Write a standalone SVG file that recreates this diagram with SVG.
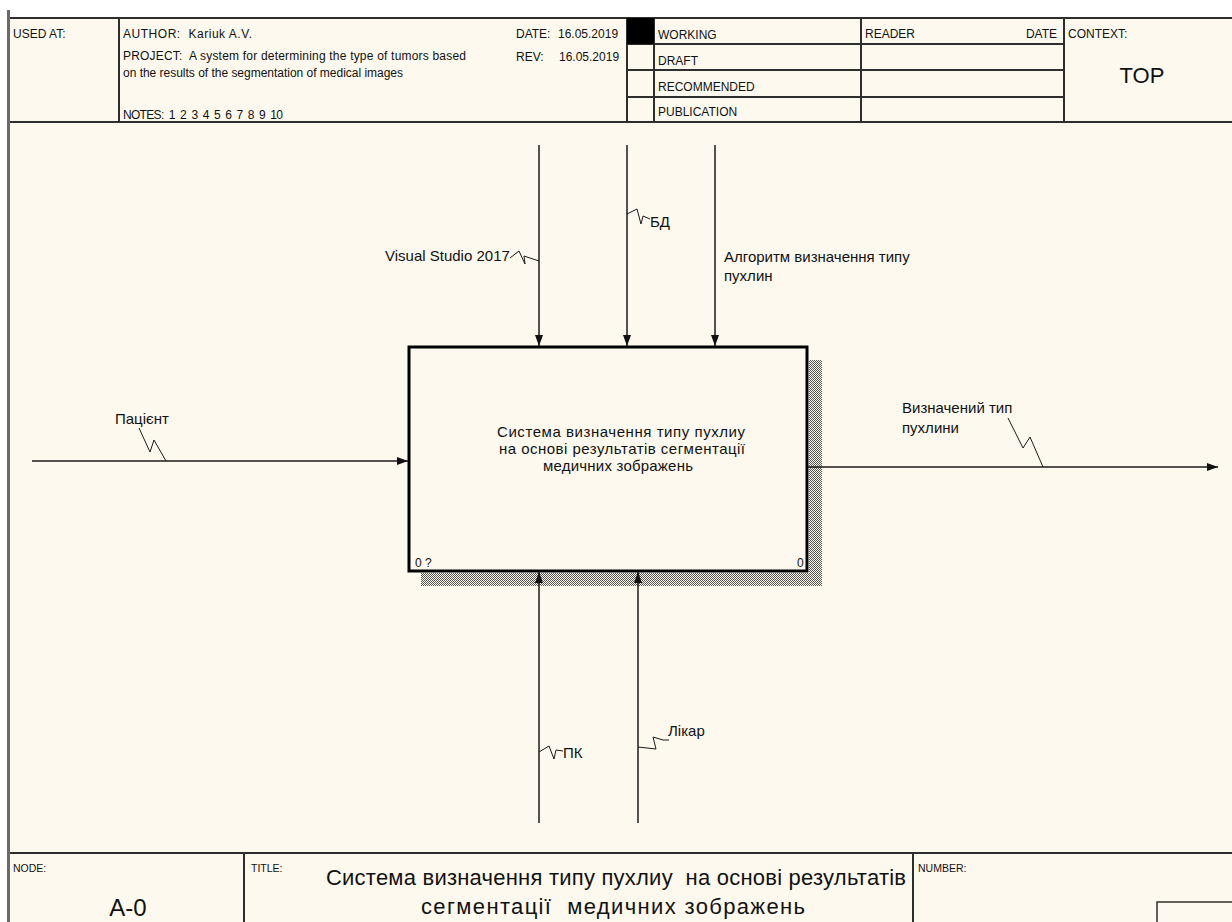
<svg xmlns="http://www.w3.org/2000/svg" width="1232" height="922" viewBox="0 0 1232 922">
  <defs>
    <pattern id="hatch" width="2" height="2" patternUnits="userSpaceOnUse">
      <rect width="2" height="2" fill="#fdf9ee"/>
      <rect width="1" height="1" fill="#555"/>
      <rect x="1" y="1" width="1" height="1" fill="#555"/>
    </pattern>
    <marker id="arrow" markerUnits="userSpaceOnUse" markerWidth="12" markerHeight="10" refX="11" refY="5" orient="auto">
      <path d="M0,1 L11,5 L0,9 Z" fill="#111"/>
    </marker>
    <style>
      text { white-space: pre; }
      .frame { stroke: #2e2e2e; stroke-width: 2; fill: none; }
      .hdr { font-family: "Liberation Sans", Arial, sans-serif; font-size: 12px; fill: #111; }
      .small { font-family: "Liberation Sans", Arial, sans-serif; font-size: 10.5px; fill: #111; }
      .lbl { font-family: "Liberation Sans", Arial, sans-serif; font-size: 15px; fill: #111; }
      .big { font-family: "Liberation Sans", Arial, sans-serif; font-size: 22px; fill: #111; }
      .arc { stroke: #1a1a1a; stroke-width: 1.5; fill: none; }
      .sq { stroke: #1a1a1a; stroke-width: 1; fill: none; }
    </style>
  </defs>

  <!-- page -->
  <rect x="0" y="0" width="1232" height="922" fill="#ffffff"/>
  <rect x="10" y="18" width="1222" height="904" fill="#fdf9ee"/>
  <rect x="7" y="10" width="3" height="912" fill="#6a6a6a"/>

  <!-- header block -->
  <g id="header">
    <line class="frame" x1="10" y1="18" x2="1232" y2="18"/>
    <line class="frame" x1="10" y1="122" x2="1232" y2="122"/>
    <line class="frame" x1="119" y1="18" x2="119" y2="122"/>
    <line class="frame" x1="627" y1="18" x2="627" y2="122"/>
    <line class="frame" x1="654" y1="18" x2="654" y2="122"/>
    <line class="frame" x1="861" y1="18" x2="861" y2="122"/>
    <line class="frame" x1="1064" y1="18" x2="1064" y2="122"/>
    <line class="frame" x1="627" y1="44" x2="1064" y2="44"/>
    <line class="frame" x1="627" y1="70" x2="1064" y2="70"/>
    <line class="frame" x1="627" y1="97" x2="1064" y2="97"/>
    <rect x="627" y="18" width="27" height="26" fill="#000"/>

    <text class="hdr" x="13" y="38">USED AT:</text>
    <text class="hdr" x="123" y="38" textLength="129">AUTHOR:  Kariuk A.V.</text>
    <text class="hdr" x="123" y="60" textLength="343">PROJECT:  A system for determining the type of tumors based</text>
    <text class="hdr" x="123" y="77" textLength="280">on the results of the segmentation of medical images</text>
    <text class="hdr" x="123" y="119" textLength="160">NOTES:  1  2  3  4  5  6  7  8  9  10</text>
    <text class="hdr" x="516" y="38">DATE:</text>
    <text class="hdr" x="558" y="38">16.05.2019</text>
    <text class="hdr" x="516" y="61">REV:</text>
    <text class="hdr" x="559" y="61">16.05.2019</text>
    <text class="hdr" x="658" y="39">WORKING</text>
    <text class="hdr" x="658" y="65">DRAFT</text>
    <text class="hdr" x="658" y="91">RECOMMENDED</text>
    <text class="hdr" x="658" y="116">PUBLICATION</text>
    <text class="hdr" x="865" y="38">READER</text>
    <text class="hdr" x="1057" y="38" text-anchor="end">DATE</text>
    <text class="hdr" x="1068" y="38">CONTEXT:</text>
    <text class="big" x="1142" y="83" text-anchor="middle">TOP</text>
  </g>

  <!-- activity box A0 -->
  <g id="node-a0">
    <rect x="809" y="360" width="13" height="226" fill="url(#hatch)"/>
    <rect x="421" y="573" width="401" height="13" fill="url(#hatch)"/>
    <rect x="409" y="347" width="398" height="224" fill="#fdf9ee" stroke="#000" stroke-width="3"/>
    <text class="lbl" x="497" y="437" textLength="248">Система визначення типу пухлиу</text>
    <text class="lbl" x="499" y="454" textLength="246">на основі результатів сегментації</text>
    <text class="lbl" x="543" y="471" textLength="150">медичних зображень</text>
    <text class="hdr" x="415" y="567">0 ?</text>
    <text class="hdr" x="797" y="567">0</text>
  </g>

  <!-- arrows -->
  <g id="connectors">
    <!-- input -->
    <line class="arc" x1="32" y1="461" x2="408" y2="461" marker-end="url(#arrow)"/>
    <!-- controls -->
    <line class="arc" x1="539" y1="145" x2="539" y2="346" marker-end="url(#arrow)"/>
    <line class="arc" x1="627" y1="145" x2="627" y2="346" marker-end="url(#arrow)"/>
    <line class="arc" x1="715" y1="145" x2="715" y2="346" marker-end="url(#arrow)"/>
    <!-- output -->
    <line class="arc" x1="808" y1="467" x2="1218" y2="467" marker-end="url(#arrow)"/>
    <!-- mechanisms -->
    <line class="arc" x1="539" y1="823" x2="539" y2="572" marker-end="url(#arrow)"/>
    <line class="arc" x1="638" y1="823" x2="638" y2="572" marker-end="url(#arrow)"/>

    <!-- label leaders -->
    <polyline class="sq" points="510,258 519,251 525,264 524,256 539,261"/>
    <polyline class="sq" points="627,214 637,209 641,224 643,216 650,219"/>
    <polyline class="sq" points="139,428 150,452 154,440 166,461"/>
    <polyline class="sq" points="1008,418 1023,448 1030,437 1043,467"/>
    <polyline class="sq" points="539,752 549,746 554,759 556,750 563,751"/>
    <polyline class="sq" points="638,747 656,749 653,737 663,740 669,740"/>
  </g>

  <!-- arrow labels -->
  <g id="labels">
    <text class="lbl" x="385" y="261">Visual Studio 2017</text>
    <text class="lbl" x="650" y="227">БД</text>
    <text class="lbl" x="724" y="262">Алгоритм визначення типу</text>
    <text class="lbl" x="724" y="281">пухлин</text>
    <text class="lbl" x="115" y="424">Пацієнт</text>
    <text class="lbl" x="902" y="413">Визначений тип</text>
    <text class="lbl" x="902" y="433">пухлини</text>
    <text class="lbl" x="563" y="758">ПК</text>
    <text class="lbl" x="668" y="736">Лікар</text>
  </g>

  <!-- footer block -->
  <g id="footer">
    <line class="frame" x1="10" y1="853" x2="1232" y2="853"/>
    <line class="frame" x1="244" y1="853" x2="244" y2="922"/>
    <line class="frame" x1="913" y1="853" x2="913" y2="922"/>
    <rect x="1157" y="902" width="80" height="25" fill="none" stroke="#2e2e2e" stroke-width="1.5"/>
    <text class="small" x="13" y="872">NODE:</text>
    <text class="big" x="128" y="916" text-anchor="middle" style="font-size:24px">A-0</text>
    <text class="small" x="251" y="872">TITLE:</text>
    <text class="big" x="326" y="885" textLength="580">Система визначення типу пухлиу  на основі результатів</text>
    <text class="big" x="421" y="914" textLength="384">сегментації  медичних зображень</text>
    <text class="small" x="918" y="872">NUMBER:</text>
  </g>
</svg>
